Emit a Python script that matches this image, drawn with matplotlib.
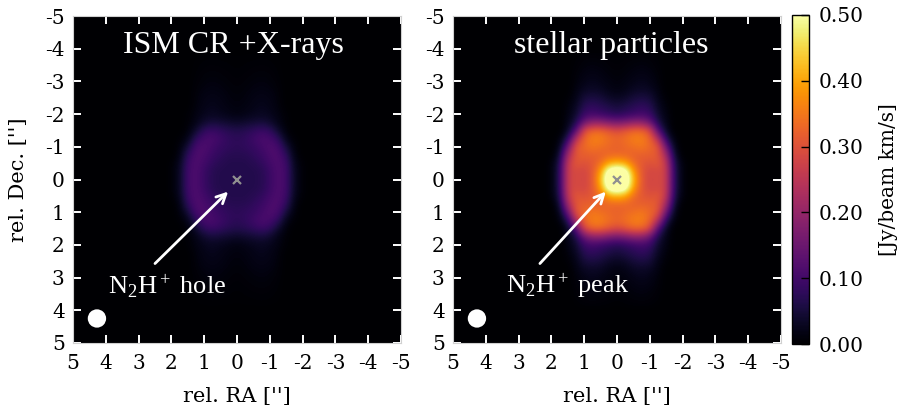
# N2H+ moment zero maps, two ionisation models

import numpy as np
import matplotlib
matplotlib.use("Agg")
import matplotlib.pyplot as plt
from matplotlib.patches import Circle

# quadrant values, rows are |Dec| = 0, 0.25, ... columns are |RA| = 0, 0.25, ... 2.5 (arcsec)
stellar_quadrant = [
    [.62, .58, .42, .31, .28, .29, .27, .07, .01, 0, 0],
    [.58, .55, .39, .31, .28, .29, .27, .07, .01, 0, 0],
    [.42, .40, .34, .31, .30, .31, .26, .06, .01, 0, 0],
    [.33, .33, .32, .32, .32, .31, .22, .04, 0, 0, 0],
    [.32, .33, .34, .35, .33, .31, .15, .02, 0, 0, 0],
    [.33, .34, .36, .36, .33, .24, .07, .01, 0, 0, 0],
    [.29, .31, .33, .33, .29, .12, .03, 0, 0, 0, 0],
    [.16, .17, .19, .19, .15, .06, .02, 0, 0, 0, 0],
    [.07, .08, .09, .10, .09, .04, .015, 0, 0, 0, 0],
    [.05, .06, .07, .08, .07, .03, .01, 0, 0, 0, 0],
    [.03, .035, .05, .055, .05, .02, .005, 0, 0, 0, 0],
    [.015, .02, .03, .035, .03, .015, 0, 0, 0, 0, 0],
    [.01, .015, .02, .025, .02, .01, 0, 0, 0, 0, 0],
    [.008, .01, .015, .018, .015, .008, 0, 0, 0, 0, 0],
    [.005, .008, .01, .012, .01, .005, 0, 0, 0, 0, 0],
    [.003, .005, .007, .008, .007, .003, 0, 0, 0, 0, 0],
]
ism_quadrant = [
    [.065, .065, .065, .07, .09, .115, .10, .03, .005, 0, 0],
    [.065, .065, .065, .07, .09, .115, .10, .03, .005, 0, 0],
    [.065, .065, .07, .08, .10, .115, .095, .025, .005, 0, 0],
    [.07, .07, .08, .09, .11, .115, .08, .015, 0, 0, 0],
    [.075, .08, .085, .10, .115, .105, .05, .01, 0, 0, 0],
    [.075, .08, .095, .11, .105, .08, .02, .005, 0, 0, 0],
    [.065, .07, .08, .09, .08, .04, .01, 0, 0, 0, 0],
    [.035, .04, .045, .05, .04, .02, .005, 0, 0, 0, 0],
    [.015, .02, .025, .03, .025, .015, .005, 0, 0, 0, 0],
    [.012, .015, .02, .025, .02, .012, 0, 0, 0, 0, 0],
    [.01, .012, .018, .02, .018, .01, 0, 0, 0, 0, 0],
    [.008, .01, .014, .016, .014, .008, 0, 0, 0, 0, 0],
    [.006, .008, .01, .012, .01, .006, 0, 0, 0, 0, 0],
    [.004, .006, .008, .009, .008, .004, 0, 0, 0, 0, 0],
    [.003, .004, .005, .006, .005, .003, 0, 0, 0, 0, 0],
    [.002, .003, .003, .004, .003, .002, 0, 0, 0, 0, 0],
]

titles = ["ISM CR +X-rays", "stellar particles"]
notes = [r"N$_2$H$^+$ hole", r"N$_2$H$^+$ peak"]
ticks = [-5, -4, -3, -2, -1, 0, 1, 2, 3, 4, 5]
cbar_ticks = [0.0, 0.1, 0.2, 0.3, 0.4, 0.5]

plt.rcParams['font.family'] = 'DejaVu Serif'
plt.rcParams['axes.unicode_minus'] = False
plt.rcParams['mathtext.fontset'] = 'custom'
plt.rcParams['mathtext.rm'] = 'Liberation Serif'
plt.rcParams['mathtext.it'] = 'Liberation Serif'


# mirrors a quadrant into a full map on a 0.25" grid out to +-5"
def full_map(quadrant):
    q = np.array(quadrant, dtype=float)
    q = np.pad(q, ((0, 21 - q.shape[0]), (0, 21 - q.shape[1])))
    top = np.hstack([q[:, :0:-1], q])
    return np.vstack([top[:0:-1], top])


W, H = 899.0, 412.0
fig = plt.figure(figsize=(8.99, 4.12), dpi=100)
ax1 = fig.add_axes([73 / W, 1 - 343 / H, 328 / W, 327 / H])
ax2 = fig.add_axes([453 / W, 1 - 343 / H, 328 / W, 327 / H])
cax = fig.add_axes([792 / W, 1 - 344 / H, 17 / W, 329 / H])

maps = [ism_quadrant, stellar_quadrant]
arrows = [((2.5, 2.57), (0.27, 0.37)), ((2.35, 2.57), (0.34, 0.37))]
note_x = [3.93, 3.38]
title_x = [0.12, 0.18]

for i, ax in enumerate([ax1, ax2]):
    im = ax.imshow(full_map(maps[i]), cmap='inferno', vmin=0, vmax=0.5, interpolation='bicubic',
                   extent=[-5.125, 5.125, 5.125, -5.125], aspect='auto')
    ax.set_xlim(5, -5)
    ax.set_ylim(5, -5)
    ax.set_xticks(ticks)
    ax.set_yticks(ticks)
    ax.tick_params(direction='in', length=6, width=1.4, color='white', top=True, right=True,
                   labelsize=14.5, pad=6)
    ax.tick_params(axis='x', pad=8)
    for s in ax.spines.values():
        s.set_color('#d0d0d0')
        s.set_linewidth(0.8)
    ax.set_xlabel("rel. RA ['']", fontsize=15, labelpad=10)

    ax.text(title_x[i], -3.87, titles[i], color='white', ha='center', va='baseline', fontsize=23,
            family='Liberation Serif')
    ax.text(note_x[i], 3.49, notes[i], color='white', ha='left', va='baseline', fontsize=19,
            family='Liberation Serif')
    ax.annotate("", xy=arrows[i][1], xytext=arrows[i][0],
                arrowprops=dict(arrowstyle='->', color='white', lw=2, mutation_scale=17,
                                shrinkA=0, shrinkB=0))
    ax.plot([0], [0], marker='x', color='#909090', ms=5.5, mew=1.6)
    ax.add_patch(Circle((4.27, 4.25), 0.28, color='white', lw=0))

ax1.set_ylabel("rel. Dec. ['']", fontsize=15, labelpad=12)

cb = fig.colorbar(im, cax=cax)
cb.set_ticks(cbar_ticks)
cb.set_ticklabels(["%.2f" % t for t in cbar_ticks])
cb.ax.tick_params(direction='in', length=6, width=1, color='black', labelsize=14.5, pad=7)
cb.outline.set_linewidth(1)
cb.set_label("[Jy/beam km/s]", fontsize=14.5, labelpad=11)

fig.savefig("out.png", dpi=100)
